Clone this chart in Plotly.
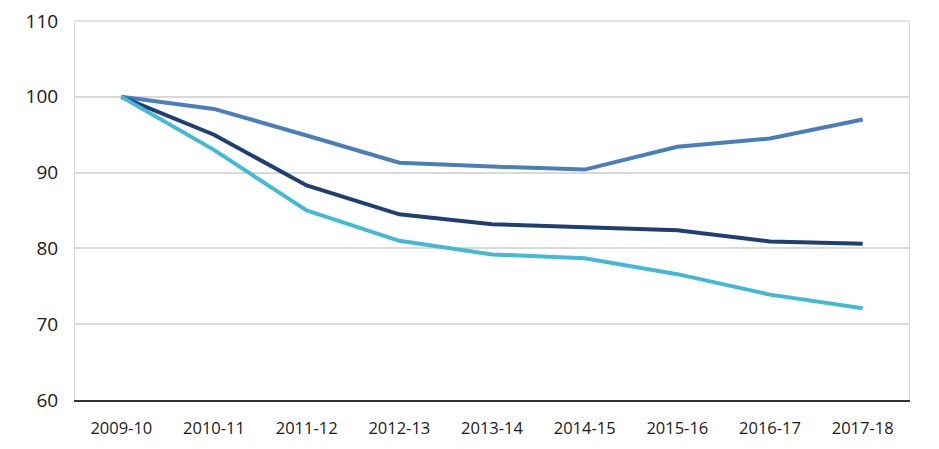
import plotly.graph_objects as go

# Financial years on the category axis
years = ["2009-10", "2010-11", "2011-12", "2012-13", "2013-14",
         "2014-15", "2015-16", "2016-17", "2017-18"]

# Index values (2009-10 = 100)
series_a = [100, 98.4, 94.9, 91.3, 90.8, 90.4, 93.4, 94.5, 97.0]   # mid blue
series_b = [100, 95.0, 88.3, 84.5, 83.2, 82.8, 82.4, 80.9, 80.6]   # navy
series_c = [100, 93.0, 85.0, 81.0, 79.2, 78.7, 76.6, 73.9, 72.1]   # cyan

y_ticks = [60, 70, 80, 90, 100, 110]

COLOR_A = "#4A7EBB"
COLOR_B = "#1F3F73"
COLOR_C = "#43B9D6"

fig = go.Figure()
for vals, col in [(series_a, COLOR_A), (series_b, COLOR_B), (series_c, COLOR_C)]:
    fig.add_trace(go.Scatter(
        x=years, y=vals, mode="lines",
        line=dict(color=col, width=4),
        showlegend=False,
    ))

# page body adds ~8px offset, margins compensate
fig.update_layout(
    width=939, height=449,
    margin=dict(l=67, r=38, t=13, b=57),
    paper_bgcolor="white",
    plot_bgcolor="white",
    font=dict(family="Open Sans, sans-serif", color="#1A1A1A"),
)

fig.update_xaxes(
    type="category",
    range=[-0.5, 8.5],
    showgrid=False,
    showline=True, linecolor="#333333", linewidth=2,
    ticks="", tickfont=dict(size=16.5),
    ticklabelstandoff=12,
    automargin=False,
)

fig.update_yaxes(
    range=[60, 110],
    tickvals=y_ticks,
    showgrid=True, gridcolor="#D9D9D9", gridwidth=1.5,
    showline=True, mirror=True, linecolor="#D9D9D9", linewidth=1,
    ticks="", tickfont=dict(size=19),
    ticklabelstandoff=12,
    ticklabeloverflow="allow",
    automargin=False,
    zeroline=False,
)

# top edge of the plot frame
fig.add_shape(type="line", xref="paper", yref="paper", x0=0, x1=1, y0=1, y1=1,
              line=dict(color="#D9D9D9", width=1.5))

fig.write_html("out.html")
